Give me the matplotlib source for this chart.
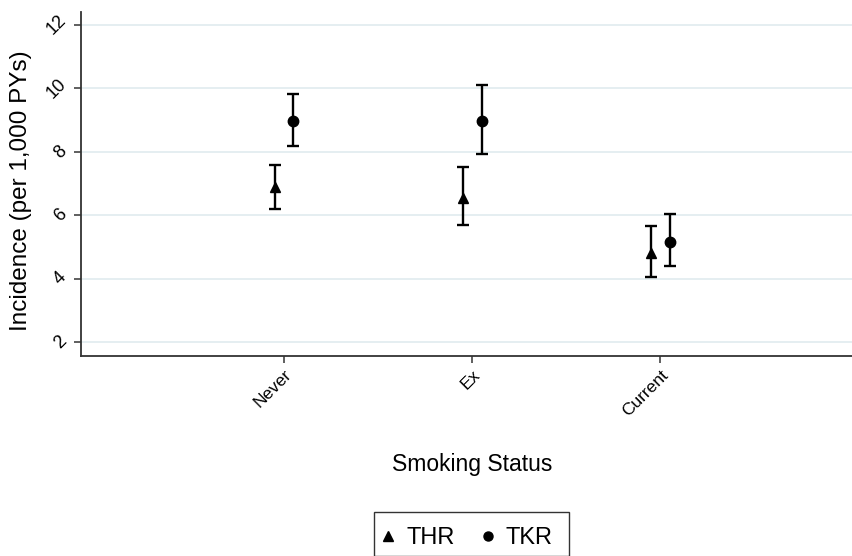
import matplotlib
matplotlib.use("Agg")
import matplotlib.pyplot as plt
from matplotlib.patches import Rectangle
import numpy as np

plt.rcParams["font.family"] = ["Liberation Sans", "DejaVu Sans"]

# data
categories = ["Never", "Ex", "Current"]
thr_rate = [6.9, 6.55, 4.8]
thr_low = [6.2, 5.69, 4.05]
thr_high = [7.6, 7.52, 5.66]
tkr_rate = [8.98, 8.96, 5.15]
tkr_low = [8.2, 7.93, 4.4]
tkr_high = [9.83, 10.12, 6.03]
y_ticks = [2, 4, 6, 8, 10, 12]

W, H = 852, 556
pos = np.arange(1, len(categories) + 1)
off = 0.05

fig = plt.figure(figsize=(W / 100, H / 100), dpi=100)
ax = fig.add_axes([81 / W, 1 - 356 / H, 1 - 81 / W, (356 - 12.4) / H])

for vals, lo, hi, x, mk, ms in [
    (thr_rate, thr_low, thr_high, pos - off, "^", 7.5),
    (tkr_rate, tkr_low, tkr_high, pos + off, "o", 7.5),
]:
    vals = np.array(vals)
    err = [vals - np.array(lo), np.array(hi) - vals]
    ax.errorbar(x, vals, yerr=err, fmt=mk, color="black", ms=ms,
                ecolor="black", elinewidth=1.7, capsize=4.5, capthick=1.7,
                zorder=3)

ax.set_xlim(-0.08, 4.02)
ax.set_ylim(1.56, 12.4)
ax.set_yticks(y_ticks)
ax.set_yticklabels([str(t) for t in y_ticks], rotation=45, fontsize=13,
                   va="center", ha="right")
ax.set_xticks(pos)
ax.set_xticklabels(categories, rotation=45, ha="right", va="top",
                   rotation_mode="anchor", fontsize=12.5)
ax.grid(axis="y", color="#e3edf0", linewidth=1.3)
ax.set_axisbelow(True)

for s in ["top", "right"]:
    ax.spines[s].set_visible(False)
for s in ["left", "bottom"]:
    ax.spines[s].set_color("#333333")
    ax.spines[s].set_linewidth(1.3)
ax.tick_params(length=5, width=1.2, color="#444444", pad=3)

ax.set_ylabel("Incidence (per 1,000 PYs)", fontsize=17.5)
ax.yaxis.set_label_coords(-49 / 771, (356 - 191) / 343.6)
fig.text(472 / W, 1 - 465 / H, "Smoking Status", fontsize=16.5,
         ha="center", va="center")

# legend: frame drawn separately (Stata box is taller than the entries)
h1 = plt.Line2D([], [], marker="^", color="black", ls="none", ms=6.5)
h2 = plt.Line2D([], [], marker="o", color="black", ls="none", ms=6.5)
fig.legend([h1, h2], ["THR", "TKR"], loc="center",
           bbox_to_anchor=(465 / W, 1 - 538 / H), ncol=2,
           fontsize=17, frameon=False,
           handletextpad=0.3, columnspacing=0.95, handlelength=0.9,
           borderpad=0.2, borderaxespad=0)
fig.add_artist(Rectangle((374 / W, 0), (569 - 374) / W, (H - 512) / H,
                         transform=fig.transFigure, fill=False,
                         edgecolor="#333333", linewidth=1.0))

fig.savefig("out.png", dpi=100)
